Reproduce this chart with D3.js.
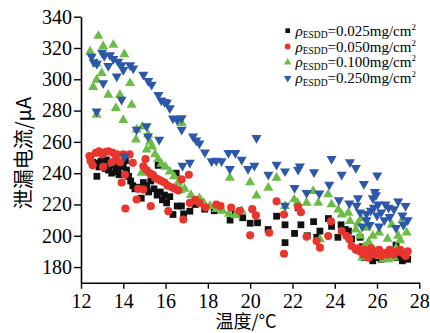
<!DOCTYPE html>
<html><head><meta charset="utf-8">
<script src="https://cdn.jsdelivr.net/npm/d3@7"></script>
<style>
body{margin:0;background:#fff;}
svg{display:block;}
</style></head>
<body>
<svg id="c" width="430" height="333"></svg>
<script>
const seriesNames = ["0.025mg/cm", "0.050mg/cm", "0.100mg/cm", "0.250mg/cm"];
const seriesColors = ["#111111", "#e8352d", "#6cbd47", "#2d57a8"];
const xTicks = [12,14,16,18,20,22,24,26,28];
const yTicks = [180,200,220,240,260,280,300,320,340];

const s025 = [[12.45,249],[12.55,247],[12.7,246.5],[12.75,238],[12.85,244],[12.95,247.5],[13.05,246],[13.15,243],[13.2,248.5],[13.3,242],[13.4,247],[13.45,240],[13.55,245],[13.65,241],[13.75,243],[13.8,239],[13.9,247],[14.0,244],[14.1,248],[14.15,242],[14.25,238],[14.35,235],[14.45,232],[14.55,230],[14.65,231],[14.85,224],[14.95,234],[15.1,232],[15.2,228],[15.3,235],[15.45,230],[15.6,226],[15.65,245],[15.75,228],[15.85,223],[15.95,226],[16.05,221],[16.2,225],[16.35,213.6],[16.5,240],[16.55,219],[16.75,219],[16.85,214],[17.15,215.7],[17.4,220],[17.85,217],[18.3,216],[18.6,218],[19.05,210],[19.3,214],[19.65,211.5],[20.0,208],[20.35,208.3],[20.85,204],[21.25,212.5],[21.65,207],[21.65,195.6],[22.1,201.5],[22.27,217.9],[22.4,207],[22.7,200],[23.0,209],[23.15,199],[23.3,203],[23.7,211],[23.85,206],[24.15,199],[24.3,207],[24.5,204],[24.65,203],[24.8,198],[25.2,199],[25.3,193],[25.4,186],[25.5,190],[25.7,188],[25.8,184],[25.9,186],[26.1,190],[26.2,185],[26.3,188],[26.5,186],[26.6,187],[26.7,189],[26.9,194],[26.95,186],[27.1,187],[27.2,184],[27.3,186],[27.45,185]];

const s050 = [[12.4,251],[12.45,248],[12.55,245],[12.7,253],[12.85,254],[13.0,252],[13.05,244],[13.15,253.5],[13.3,254],[13.45,247],[13.5,253],[13.65,248.5],[13.7,252],[13.85,247],[13.92,234],[14.0,252],[14.08,239],[14.1,217.4],[14.3,252],[14.45,246.6],[14.63,223.2],[14.7,230],[14.95,229.5],[14.95,244.4],[15.05,249],[15.1,242],[15.25,240],[15.3,218.9],[15.4,239],[15.5,237],[15.65,236],[15.8,235],[15.95,234],[16.1,232],[16.13,215.7],[16.3,231],[16.45,230],[16.6,229],[16.76,236],[16.84,210.4],[17.1,239],[17.15,221],[17.4,223],[17.6,221],[17.9,218],[18.4,220],[18.6,219],[19.1,218],[19.5,216],[20.0,200.3],[20.1,217],[20.27,213],[20.9,201.9],[21.25,222],[21.6,213.6],[21.6,188.5],[22.27,218.5],[22.4,215],[22.67,199.4],[23.14,196.6],[23.3,192.4],[23.69,199.8],[23.82,209.3],[24.33,203],[24.55,200],[24.69,197.7],[24.8,193.4],[25.0,191],[25.1,192],[25.2,190],[25.35,188],[25.4,191],[25.5,190],[25.6,186],[25.7,192],[25.8,189],[25.9,188],[26.0,190],[26.1,191],[26.2,187],[26.4,189],[26.5,188],[26.6,191],[26.7,190],[26.8,188],[27.0,190],[27.1,191],[27.2,189],[27.3,188],[27.35,187],[27.45,190]];

const s100 = [[12.43,317.7],[12.82,327.7],[13.05,321],[13.53,322],[14.05,316],[12.74,310],[12.98,304],[12.74,299.6],[12.58,295],[14.32,297.5],[13.29,290],[13.84,290],[14.4,283.7],[13.65,281.6],[12.74,277.3],[14.0,274],[14.63,267.8],[14.6,261.4],[14.9,269.7],[15.18,264.6],[15.26,260],[15.36,257],[15.1,255],[15.5,252],[15.65,249],[15.8,246],[14.87,240.2],[16.0,244],[16.2,241],[16.4,238],[16.6,234],[16.76,272],[16.7,229],[16.9,230],[17.2,226],[17.4,222],[17.6,224],[17.8,221],[18.1,219],[18.4,217],[18.7,216],[19.0,214],[19.3,213],[19.6,216],[19.04,237],[20.0,234.2],[20.3,225.7],[20.86,230.6],[21.25,237],[21.65,218.9],[22.08,223.2],[22.24,221],[22.67,221],[22.98,228.5],[23.22,221],[23.3,197.7],[23.69,226.4],[23.85,220],[24.17,216.8],[24.33,213.6],[24.64,214.7],[24.72,209.3],[25.0,204],[25.1,208],[25.2,200],[25.25,211],[25.3,186],[25.4,193],[25.5,205],[25.6,196],[25.65,189],[25.8,200],[25.85,191],[26.0,190],[26.1,202],[26.15,187],[26.3,185],[26.5,198],[26.55,185],[26.7,207],[26.8,186],[26.9,192],[27.0,200],[27.1,197],[27.2,210],[27.4,202]];

const s250 = [[12.5,314.5],[12.6,311],[12.75,310],[13.0,317],[13.1,315],[13.37,315.5],[13.53,313],[13.29,308.6],[13.76,311.3],[13.92,309],[14.0,306],[14.32,309],[14.47,307],[13.69,301.8],[13.05,297.5],[14.95,303],[15.18,299],[15.34,296.5],[15.66,290],[15.8,286.5],[15.95,285.5],[16.06,285],[16.2,281.6],[13.92,287],[12.74,279.5],[16.35,275],[16.55,274],[16.76,275.2],[16.76,267.8],[14.63,267.8],[15.1,270],[15.17,263.5],[15.7,261.4],[14.08,250.8],[16.8,244.8],[17.15,246.7],[17.3,263.5],[17.45,261],[17.6,259],[17.86,253.3],[18.18,247.6],[18.4,248],[18.65,247.6],[18.97,253],[19.3,253],[19.6,248.7],[20.3,262.5],[19.04,242.7],[19.9,242.7],[20.2,244.8],[20.86,239],[21.25,245.5],[21.65,241.2],[22.27,242.3],[21.65,219.3],[22.35,244.4],[23.02,240.6],[23.85,249.1],[24.72,247],[25.0,243.4],[24.33,239],[26.01,238.5],[22.1,230.6],[22.67,227.4],[23.27,227],[23.74,232.7],[25.38,233.2],[24.2,222.7],[24.69,220.6],[25.03,219.3],[25.1,224],[25.2,215],[25.5,210],[25.65,207],[25.8,224],[25.85,218],[25.5,214],[25.7,216],[25.9,228],[26.0,213],[26.05,220],[26.2,215],[26.35,210],[26.4,220],[26.55,218],[26.6,212],[26.8,217],[27.0,222],[27.2,213],[27.25,207],[27.35,219],[27.45,210],[26.1,206],[25.3,206],[26.9,205],[25.95,226]];

const svg = d3.select("#c");
const x = d3.scaleLinear().domain([12,28]).range([81,419.3]);
const y = d3.scaleLinear().domain([170,340]).range([282.7,16.7]);

const serif = "Liberation Serif, Times New Roman, DejaVu Serif, serif";
const cjk = "Noto Sans CJK SC, Noto Sans CJK JP, sans-serif";

// axes
const gx = svg.append("g").attr("transform","translate(0,282.7)")
  .call(d3.axisBottom(x).tickValues(xTicks).tickSize(6).tickSizeOuter(0).tickPadding(5));
const gy = svg.append("g").attr("transform","translate(81,0)")
  .call(d3.axisLeft(y).tickValues(yTicks).tickSize(7).tickSizeOuter(0).tickPadding(2));
[gx,gy].forEach(g=>{
  g.attr("font-family", serif).attr("font-size", 20);
  g.select(".domain").attr("stroke","#000").attr("stroke-width",1.6);
  g.selectAll(".tick line").attr("stroke","#000").attr("stroke-width",1.4);
  g.selectAll(".tick text").attr("fill","#000").attr("font-family",serif).attr("font-size",20);
});

// marks
const sym = {
  sq: d3.symbol().type(d3.symbolSquare).size(46),
  ci: d3.symbol().type(d3.symbolCircle).size(52),
  tu: d3.symbol().type(d3.symbolTriangle).size(44)
};
function drawSeries(data, color, kind){
  const g = svg.append("g");
  g.selectAll("path").data(data).enter().append("path")
    .attr("d", kind==="tri-down" || kind==="tri-up" ? sym.tu() : (kind==="sq"?sym.sq():sym.ci()))
    .attr("transform", d => `translate(${x(d[0])},${y(d[1])})` + (kind==="tri-down"?" rotate(180)":""))
    .attr("fill", color);
}
drawSeries(s025, seriesColors[0], "sq");
drawSeries(s100, seriesColors[2], "tri-up");
drawSeries(s050, seriesColors[1], "ci");
drawSeries(s250, seriesColors[3], "tri-down");

// legend
const kinds = ["sq","ci","tri-up","tri-down"];
const lsym = {
  sq: d3.symbol().type(d3.symbolSquare).size(22)(),
  ci: d3.symbol().type(d3.symbolCircle).size(26)(),
  tri: d3.symbol().type(d3.symbolTriangle).size(24)()
};
seriesNames.forEach((n,i)=>{
  const cy = 30.7 + i*15.8;
  const k = kinds[i];
  svg.append("path").attr("d", k==="sq"?lsym.sq:(k==="ci"?lsym.ci:lsym.tri))
    .attr("transform", `translate(287.7,${cy})` + (k==="tri-down"?" rotate(180)":""))
    .attr("fill", seriesColors[i]);
  const t = svg.append("text").attr("x",295.5).attr("y",cy+5)
    .attr("font-family",serif).attr("font-size",15).attr("fill","#000");
  t.append("tspan").text("ρ").attr("font-style","italic");
  t.append("tspan").text("ESDD").attr("font-size",9.5).attr("dy",2.5);
  t.append("tspan").text("=" + n).attr("dy",-2.5);
  t.append("tspan").text("2").attr("font-size",9).attr("dy",-6);
});

// axis titles
svg.append("text").attr("x",246).attr("y",327.5).attr("text-anchor","middle")
  .attr("font-family",cjk).attr("font-size",18).attr("fill","#000")
  .text("温度/°C");
svg.append("text").attr("transform","translate(30.5,153) rotate(-90)").attr("text-anchor","middle")
  .attr("font-family",cjk).attr("font-size",20).attr("fill","#000")
  .text("泄漏电流/μA");
</script>
</body></html>
